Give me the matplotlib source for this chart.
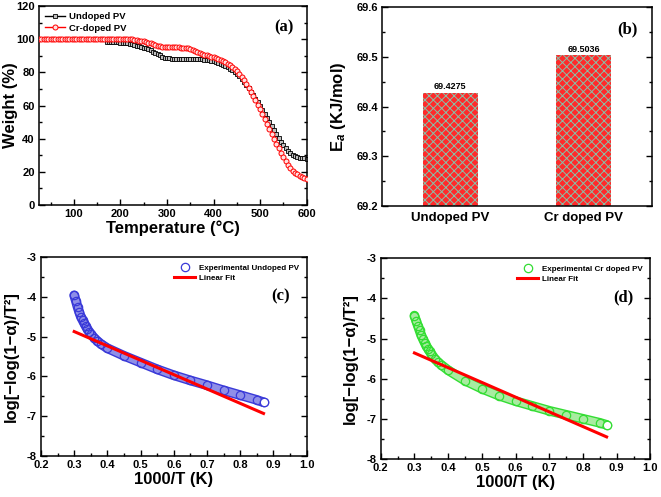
import matplotlib
matplotlib.use('Agg')
import matplotlib.pyplot as plt
import matplotlib.patheffects as pe
from matplotlib.ticker import MultipleLocator

plt.rcParams['font.family'] = ['Liberation Sans', 'DejaVu Sans']
plt.rcParams['font.weight'] = 'bold'
plt.rcParams['axes.unicode_minus'] = False
plt.rcParams['mathtext.fontset'] = 'custom'
plt.rcParams['mathtext.rm'] = 'Liberation Sans:bold'
plt.rcParams['mathtext.it'] = 'Liberation Sans:italic:bold'
plt.rcParams['mathtext.bf'] = 'Liberation Sans:bold'
plt.rcParams['hatch.linewidth'] = 0.7

# (a) TGA curves, 5 degC steps
temp_undoped = list(range(170, 601, 5))
weight_undoped = [98.4, 98.4, 98.3, 98.3, 98.2, 98.1, 98.0, 97.9, 97.7, 97.5, 97.2, 96.9,
                  96.6, 96.2, 95.8, 95.4, 94.9, 94.5, 94.0, 93.3, 92.6, 91.8, 91.0, 90.3,
                  89.6, 89.0, 88.6, 88.5, 88.4, 88.4, 88.3, 88.3, 88.3, 88.3, 88.3, 88.3,
                  88.2, 88.2, 88.1, 88.0, 88.0, 87.9, 87.7, 87.5, 87.3, 87.0, 86.7, 86.3,
                  85.9, 85.4, 84.8, 84.1, 83.3, 82.4, 81.4, 80.3, 79.0, 77.6, 76.0, 74.3,
                  72.5, 70.5, 68.5, 66.4, 64.2, 62.0, 59.8, 57.5, 55.2, 52.8, 50.4, 47.9,
                  45.5, 43.0, 40.6, 38.3, 36.2, 34.3, 32.6, 31.3, 30.2, 29.5, 28.9, 28.6,
                  28.3, 28.1, 28.0]
temp_doped = list(range(25, 601, 5))
weight_doped = [100.5, 100.5, 100.5, 100.5, 100.5, 100.5, 100.5, 100.5, 100.5, 100.5,
                100.5, 100.5, 100.5, 100.5, 100.5, 100.5, 100.5, 100.5, 100.5, 100.5,
                100.5, 100.5, 100.5, 100.5, 100.5, 100.5, 100.5, 100.5, 100.5, 100.5,
                100.5, 100.5, 100.5, 100.5, 100.5, 100.5,
                100.45, 100.4, 100.3, 100.2, 100.0, 99.8, 99.6, 99.3, 99.0, 98.7, 98.4,
                98.0, 97.5, 97.0, 96.5, 96.0, 95.7, 95.5, 95.4, 95.4, 95.3, 95.3, 95.2,
                95.2, 95.1, 95.0, 94.9, 94.7, 94.5, 94.2, 93.7, 93.0, 92.3, 91.7, 91.2,
                90.8, 90.4, 90.0, 89.6, 89.2, 88.8, 88.3, 87.7, 86.9, 86.2, 85.3, 84.3,
                83.2, 82.0, 80.6, 79.0, 77.2, 75.2, 73.0, 70.7, 68.3, 65.8, 63.2, 60.5,
                57.8, 54.9, 52.0, 49.0, 46.0, 43.0, 40.0, 37.0, 34.2, 31.4, 28.8, 26.4,
                24.2, 22.4, 20.8, 19.5, 18.5, 17.6, 16.8, 16.2, 15.6]

# (b) activation energy
samples = ['Undoped PV', 'Cr doped PV']
ea_values = [69.4275, 69.5036]

# (c) undoped kinetics
inv_t_c = [0.300, 0.305, 0.310, 0.315, 0.320, 0.325, 0.330, 0.335, 0.340, 0.345, 0.350,
           0.360, 0.370, 0.380, 0.400, 0.450, 0.500, 0.550, 0.600, 0.650, 0.700, 0.750,
           0.800, 0.850, 0.870]
logy_c = [-3.96, -4.10, -4.25, -4.38, -4.50, -4.58, -4.66, -4.74, -4.81, -4.87, -4.93,
          -5.03, -5.11, -5.18, -5.29, -5.48, -5.65, -5.82, -5.97, -6.10, -6.22, -6.35,
          -6.47, -6.59, -6.65]
fit_x_c = [0.30, 0.87]
fit_y_c = [-4.87, -6.93]

# (d) Cr doped kinetics
inv_t_d = [0.300, 0.305, 0.310, 0.315, 0.320, 0.325, 0.330, 0.335, 0.340, 0.345, 0.350,
           0.360, 0.370, 0.380, 0.400, 0.450, 0.500, 0.550, 0.600, 0.650, 0.700, 0.750,
           0.800, 0.850, 0.870]
logy_d = [-4.43, -4.56, -4.68, -4.80, -4.92, -5.01, -5.10, -5.18, -5.25, -5.32, -5.38,
          -5.50, -5.59, -5.66, -5.79, -6.05, -6.25, -6.42, -6.56, -6.68, -6.80, -6.90,
          -7.00, -7.10, -7.15]
fit_x_d = [0.30, 0.87]
fit_y_d = [-5.36, -7.45]

fig = plt.figure(figsize=(6.61, 4.97), dpi=100)
ax_a = fig.add_axes([0.059, 0.5875, 0.405, 0.400])
ax_b = fig.add_axes([0.578, 0.5855, 0.408, 0.400])
ax_c = fig.add_axes([0.062, 0.0825, 0.402, 0.400])
ax_d = fig.add_axes([0.576, 0.0765, 0.408, 0.404])


def style_axes(ax):
    for s in ax.spines.values():
        s.set_linewidth(1.1)
    ax.tick_params(which='both', direction='in', right=True, top=False,
                   labelsize=8, width=1.0, pad=3)
    ax.tick_params(which='major', length=4)
    ax.tick_params(which='minor', length=2.5)
    for lab in ax.get_xticklabels() + ax.get_yticklabels():
        lab.set_fontweight('bold')


def panel_label(ax, txt, x, y):
    ax.text(x, y, txt, transform=ax.transAxes, ha='center', va='center',
            fontsize=12, fontweight='bold', family='Liberation Serif')


# panel (a)
ax_a.plot(temp_undoped, weight_undoped, color='black', lw=1.0, marker='s', ms=3.3,
          mfc='#c0c0c0', mec='black', mew=0.6, label='Undoped PV', zorder=2)
ax_a.plot(temp_doped, weight_doped, color='red', lw=1.0, marker='o', ms=3.6,
          mfc='#ffe0e0', mec='red', mew=0.7, label='Cr-doped PV', zorder=3)
ax_a.set_xlim(25, 600)
ax_a.set_ylim(0, 120)
ax_a.xaxis.set_major_locator(MultipleLocator(100))
ax_a.xaxis.set_minor_locator(MultipleLocator(50))
ax_a.yaxis.set_major_locator(MultipleLocator(20))
ax_a.yaxis.set_minor_locator(MultipleLocator(10))
ax_a.set_xlabel('Temperature (°C)', fontsize=12, fontweight='bold', labelpad=1)
ax_a.set_ylabel('Weight (%)', fontsize=12, fontweight='bold')
ax_a.yaxis.set_label_coords(-0.078, 0.5)
ax_a.legend(loc='upper left', frameon=False, handlelength=2.2,
            borderaxespad=0.2, handletextpad=0.4, labelspacing=0.3,
            prop={'weight': 'bold', 'size': 6.8})
style_axes(ax_a)
panel_label(ax_a, '(a)', 0.914, 0.894)

# panel (b)
bars = ax_b.bar([1, 2], ea_values, width=0.41, color='#ff2a2a', edgecolor='#88c0a8',
                hatch='xxxx', linewidth=0)
for xb, v in zip([1, 2], ea_values):
    ax_b.text(xb, v + 0.003, f'{v:.4f}', ha='center', va='bottom', fontsize=6.5,
              fontweight='bold')
ax_b.set_xlim(0.49, 2.51)
ax_b.set_ylim(69.2, 69.6)
ax_b.set_xticks([1, 2])
ax_b.set_xticklabels(samples)
ax_b.yaxis.set_major_locator(MultipleLocator(0.1))
ax_b.yaxis.set_minor_locator(MultipleLocator(0.05))
ax_b.set_ylabel('E$_a$ (KJ/mol)', fontsize=12, fontweight='bold')
ax_b.yaxis.set_label_coords(-0.125, 0.5)
style_axes(ax_b)
ax_b.tick_params(axis='x', labelsize=9.5, length=0, pad=4)
for lab in ax_b.get_xticklabels():
    lab.set_fontweight('bold')
panel_label(ax_b, '(b)', 0.911, 0.889)


def kinetics(ax, xs, ys, fx, fy, edge, band, lab, tag):
    ax.plot(xs, ys, color=band, lw=5, solid_capstyle='round', zorder=2,
            path_effects=[pe.Stroke(linewidth=7, foreground=edge), pe.Normal()])
    ax.plot(xs, ys, ls='none', marker='o', ms=6, mfc='none', mec=edge, mew=0.9,
            zorder=3, label=lab)
    ax.plot(xs[-1:], ys[-1:], ls='none', marker='o', ms=6, mfc='white', mec=edge,
            mew=0.9, zorder=3)
    ax.plot(fx, fy, color='red', lw=2.2, zorder=4, label='Linear Fit')
    ax.set_xlim(0.2, 1.0)
    ax.set_ylim(-8, -3)
    ax.xaxis.set_major_locator(MultipleLocator(0.1))
    ax.xaxis.set_minor_locator(MultipleLocator(0.05))
    ax.yaxis.set_major_locator(MultipleLocator(1))
    ax.yaxis.set_minor_locator(MultipleLocator(0.5))
    ax.set_xlabel('1000/T (K)', fontsize=12, fontweight='bold', labelpad=1)
    ax.set_ylabel('log[−log(1−α)/T²]', fontsize=12, fontweight='bold')
    ax.yaxis.set_label_coords(-0.085, 0.5)
    ax.legend(loc='upper right', frameon=False, handlelength=2.6, borderaxespad=0.5,
              handletextpad=0.5, labelspacing=0.3, prop={'weight': 'bold', 'size': 5.8})
    style_axes(ax)
    panel_label(ax, tag, 0.90, 0.805)


kinetics(ax_c, inv_t_c, logy_c, fit_x_c, fit_y_c, '#3a3ad8', '#8f8fe8',
         'Experimental Undoped PV', '(c)')
kinetics(ax_d, inv_t_d, logy_d, fit_x_d, fit_y_d, '#33dd33', '#a8eca0',
         'Experimental Cr doped PV', '(d)')

fig.savefig('out.png', dpi=100)
